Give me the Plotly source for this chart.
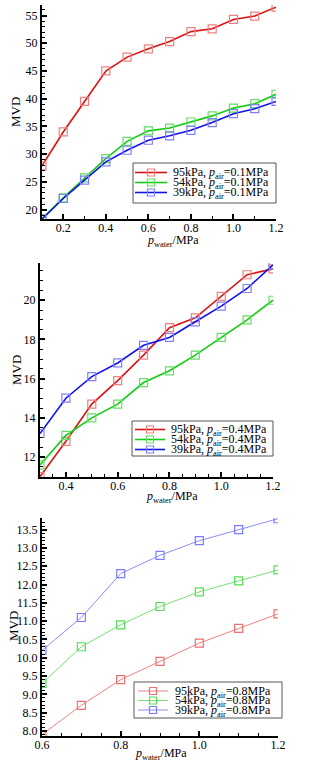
import plotly.graph_objects as go

# ---------------- data ----------------
x1 = [0.1, 0.2, 0.3, 0.4, 0.5, 0.6, 0.7, 0.8, 0.9, 1.0, 1.1, 1.2]
p1_95 = [27.9, 34.0, 39.5, 45.0, 47.5, 49.0, 50.3, 52.1, 52.6, 54.3, 54.9, 56.5]
p1_54 = [18.3, 22.1, 25.7, 29.2, 32.3, 34.2, 34.7, 35.8, 36.9, 38.3, 39.1, 40.8]
p1_39 = [18.3, 22.0, 25.3, 28.6, 30.7, 32.5, 33.3, 34.3, 35.7, 37.3, 38.2, 39.5]

x2 = [0.3, 0.4, 0.5, 0.6, 0.7, 0.8, 0.9, 1.0, 1.1, 1.2]
p2_95 = [11.0, 12.8, 14.7, 15.9, 17.2, 18.6, 19.1, 20.2, 21.3, 21.6]
p2_54 = [11.6, 13.1, 14.0, 14.7, 15.8, 16.4, 17.2, 18.1, 19.0, 20.0]
p2_39 = [13.2, 15.0, 16.1, 16.8, 17.7, 18.1, 18.9, 19.7, 20.6, 21.8]

x3 = [0.6, 0.7, 0.8, 0.9, 1.0, 1.1, 1.2]
p3_95 = [7.9, 8.7, 9.4, 9.9, 10.4, 10.8, 11.2]
p3_54 = [9.3, 10.3, 10.9, 11.4, 11.8, 12.1, 12.4]
p3_39 = [10.2, 11.1, 12.3, 12.8, 13.2, 13.5, 13.8]

labels1 = ["95kPa, <i>p</i><sub>air</sub>=0.1MPa", "54kPa, <i>p</i><sub>air</sub>=0.1MPa", "39kPa, <i>p</i><sub>air</sub>=0.1MPa"]
labels2 = ["95kPa, <i>p</i><sub>air</sub>=0.4MPa", "54kPa, <i>p</i><sub>air</sub>=0.4MPa", "39kPa, <i>p</i><sub>air</sub>=0.4MPa"]
labels3 = ["95kPa, <i>p</i><sub>air</sub>=0.8MPa", "54kPa, <i>p</i><sub>air</sub>=0.8MPa", "39kPa, <i>p</i><sub>air</sub>=0.8MPa"]

# ---------------- styling ----------------
W, H = 322, 769
FONT = "Liberation Serif, Times New Roman, serif"
strong_lines = ["#dd1111", "#11cc11", "#1111ee"]
strong_marks = ["#ee8080", "#66dd66", "#8080ff"]
light_lines = ["#f08080", "#77e077", "#8c8cff"]
light_marks = ["#ee7070", "#55dd55", "#7c7cff"]


def fx(p):
    return p / W


def fy(p):
    return (H - p) / H


fig = go.Figure()

panels = [
    (x1, [p1_95, p1_54, p1_39], labels1, strong_lines, strong_marks, 1.6, ""),
    (x2, [p2_95, p2_54, p2_39], labels2, strong_lines, strong_marks, 1.6, "2"),
    (x3, [p3_95, p3_54, p3_39], labels3, light_lines, light_marks, 1.0, "3"),
]

for xs, series, labels, lc, mc, lw, ax in panels:
    for ys, lab, c, m in zip(series, labels, lc, mc):
        fig.add_trace(go.Scatter(
            x=xs, y=ys, name=lab, mode="lines+markers", showlegend=False,
            line=dict(color=c, width=lw),
            marker=dict(symbol="square-open", size=8, color=m, line=dict(width=1.2, color=m)),
            xaxis="x" + ax, yaxis="y" + ax,
        ))

axis_common = dict(
    showline=True, linecolor="black", linewidth=2, ticks="inside", ticklen=5,
    tickwidth=1.5, tickcolor="black", showgrid=False, zeroline=False,
    tickfont=dict(family=FONT, size=12, color="black"), mirror=False,
)

minor_common = dict(ticks="inside", ticklen=3, tickcolor="black", tickwidth=1)
xlay = [
    dict(domain=[fx(42), fx(276)], range=[0.1, 1.2], tickvals=[0.2, 0.4, 0.6, 0.8, 1.0, 1.2],
         ticktext=["0.2", "0.4", "0.6", "0.8", "1.0", "1.2"],
         minor=dict(minor_common, dtick=0.1, tick0=0)),
    dict(domain=[fx(40), fx(273)], range=[0.3, 1.2], tickvals=[0.4, 0.6, 0.8, 1.0, 1.2],
         ticktext=["0.4", "0.6", "0.8", "1.0", "1.2"],
         minor=dict(minor_common, dtick=0.05, tick0=0)),
    dict(domain=[fx(42), fx(278)], range=[0.6, 1.2], tickvals=[0.6, 0.8, 1.0, 1.2],
         ticktext=["0.6", "0.8", "1.0", "1.2"],
         minor=dict(minor_common, dtick=0.05, tick0=0)),
]
ylay = [
    dict(domain=[fy(219), fy(5)], range=[18.3, 56.9], tickvals=[20, 25, 30, 35, 40, 45, 50, 55],
         minor=dict(minor_common, dtick=1, tick0=0)),
    dict(domain=[fy(477), fy(263)], range=[10.98, 21.9], tickvals=[12, 14, 16, 18, 20],
         minor=dict(minor_common, dtick=0.5, tick0=0)),
    dict(domain=[fy(736), fy(518)], range=[7.86, 13.82],
         tickvals=[8.0, 8.5, 9.0, 9.5, 10.0, 10.5, 11.0, 11.5, 12.0, 12.5, 13.0, 13.5],
         ticktext=["8.0", "8.5", "9.0", "9.5", "10.0", "10.5", "11.0", "11.5", "12.0", "12.5", "13.0", "13.5"],
         minor=dict(minor_common, dtick=0.1, tick0=0)),
]

layout = dict(
    width=W, height=H, margin=dict(l=0, r=0, t=0, b=0, autoexpand=False),
    paper_bgcolor="white", plot_bgcolor="white", showlegend=False,
    font=dict(family=FONT, size=12, color="black"),
)
for i, (xa, ya) in enumerate(zip(xlay, ylay)):
    suf = "" if i == 0 else str(i + 1)
    layout["xaxis" + suf] = dict(axis_common, **xa, anchor="y" + suf, automargin=False,
                                 ticklabelstandoff=-3)
    layout["yaxis" + suf] = dict(axis_common, **ya, anchor="x" + suf, automargin=False)

fig.update_layout(**layout)

# ---------------- hand-drawn legends (box, sample line, marker, label) ----------------
legend_specs = [
    (133, 276, 163, 203, [172.5, 182.5, 192.5], 135, 167, 171, labels1, strong_lines, strong_marks, 1.6),
    (132, 273, 421, 456, [429.5, 439.5, 449.5], 135, 165, 169, labels2, strong_lines, strong_marks, 1.6),
    (134, 282, 682, 718, [691, 700.5, 710], 138, 168, 173, labels3, light_lines, light_marks, 1.0),
]
for (l, r, t, b, rows, lx0, lx1, tx, labs, lcs, mcs, lw) in legend_specs:
    fig.add_shape(type="rect", xref="paper", yref="paper",
                  x0=fx(l), x1=fx(r), y0=fy(b), y1=fy(t),
                  line=dict(color="#555555", width=1), fillcolor="white", layer="above")
    for ry, lab, lc, mc in zip(rows, labs, lcs, mcs):
        fig.add_shape(type="line", xref="paper", yref="paper",
                      x0=fx(lx0), x1=fx(lx1), y0=fy(ry), y1=fy(ry),
                      line=dict(color=lc, width=lw), layer="above")
        cx = (lx0 + lx1) / 2
        fig.add_shape(type="rect", xref="paper", yref="paper",
                      x0=fx(cx - 3.5), x1=fx(cx + 3.5), y0=fy(ry + 3.5), y1=fy(ry - 3.5),
                      line=dict(color=mc, width=1.2), fillcolor="rgba(0,0,0,0)", layer="above")
        fig.add_annotation(text=lab, x=fx(tx), y=fy(ry + 0.5), xref="paper", yref="paper",
                           xanchor="left", yanchor="middle", showarrow=False,
                           font=dict(family=FONT, size=12, color="black"))

# axis titles
xt = [(173, 241), (172, 497), (161, 754)]
yt = [(16, 112), (16, 370), (13, 626)]
for (xp, yp) in xt:
    fig.add_annotation(text="<i>p</i><sub>water</sub>/MPa", x=fx(xp), y=fy(yp),
                       xref="paper", yref="paper", showarrow=False,
                       xanchor="center", yanchor="middle",
                       font=dict(family=FONT, size=12, color="black"))
for (xp, yp) in yt:
    fig.add_annotation(text="MVD", x=fx(xp), y=fy(yp), textangle=-90,
                       xref="paper", yref="paper", showarrow=False,
                       xanchor="center", yanchor="middle",
                       font=dict(family=FONT, size=13, color="black"))

fig.write_html("out.html",
               config={"displayModeBar": False},
               post_script="document.body.style.margin='0';document.body.style.padding='0';"
                           "document.documentElement.style.overflow='hidden';")
